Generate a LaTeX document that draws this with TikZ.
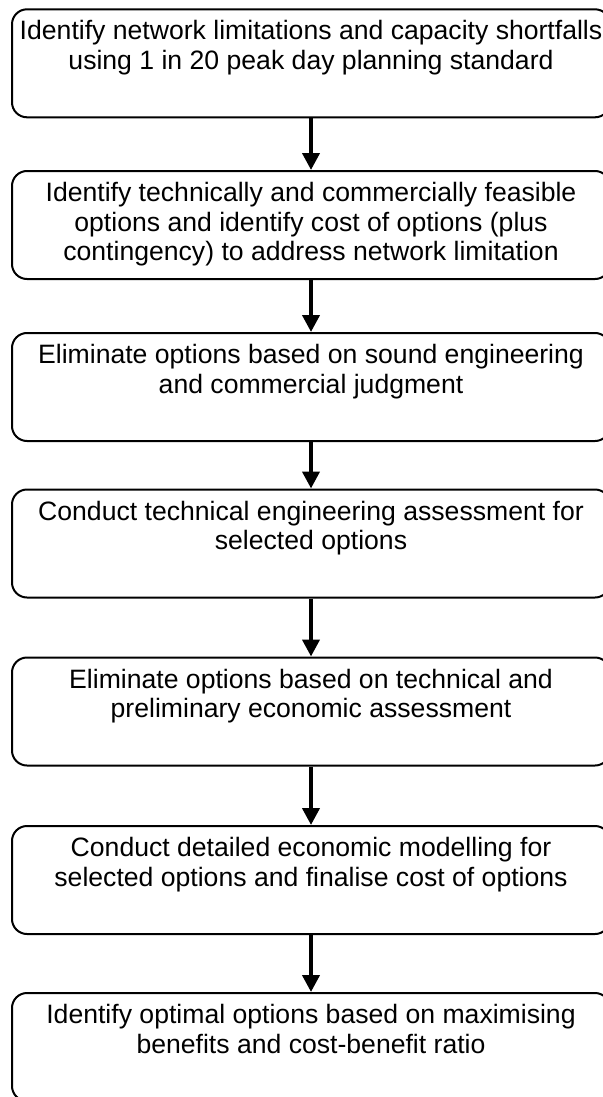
\documentclass[tikz,border=0pt]{standalone}
\usepackage{fontspec}
\setmainfont{Liberation Sans}
\usetikzlibrary{arrows.meta,positioning}

\begin{document}
\begin{tikzpicture}
[x=0.5pt,y=-0.5pt,
stepbox/.style={draw=black,line width=1pt,rounded corners=7.5pt,inner
    sep=0pt,minimum width=299pt,minimum height=54pt},
steptext/.style={anchor=north,align=center,inner sep=0pt,
    font=\fontsize{13.3}{14.8}\selectfont},
flow/.style={line width=2pt,-{Triangle[width=8.5pt,length=8.5pt]}}]
\clip (0,0) rectangle (603,1097);

\node[stepbox] (s1) at (311,63.3) {};
\node[stepbox] (s2) at (311,225) {};
\node[stepbox] (s3) at (311,387) {};
\node[stepbox] (s4) at (311,543.5) {};
\node[stepbox] (s5) at (311,711.5) {};
\node[stepbox] (s6) at (311,880) {};
\node[stepbox] (s7) at (311,1047) {};

\node[steptext] (t1) at ([yshift=-6pt]s1.north)
{Identify network limitations and capacity shortfalls\\using 1 in 20 peak day planning standard};
\node[steptext] (t2) at ([yshift=-6pt]s2.north)
{Identify technically and commercially feasible\\options and identify cost of options (plus\\contingency) to address network limitation};
\node[steptext] (t3) at ([yshift=-6pt]s3.north)
{Eliminate options based on sound engineering\\and commercial judgment};
\node[steptext] (t4) at ([yshift=-6pt]s4.north)
{Conduct technical engineering assessment for\\selected options};
\node[steptext] (t5) at ([yshift=-6pt]s5.north)
{Eliminate options based on technical and\\preliminary economic assessment};
\node[steptext] (t6) at ([yshift=-6pt]s6.north)
{Conduct detailed economic modelling for\\selected options and finalise cost of options};
\node[steptext] (t7) at ([yshift=-6pt]s7.north)
{Identify optimal options based on maximising\\benefits and cost-benefit ratio};

\draw [flow] (s1) -- (s2);
\draw [flow] (s2) -- (s3);
\draw [flow] (s3) -- (s4);
\draw [flow] (s4) -- (s5);
\draw [flow] (s5) -- (s6);
\draw [flow] (s6) -- (s7);
\end{tikzpicture}
\end{document}
